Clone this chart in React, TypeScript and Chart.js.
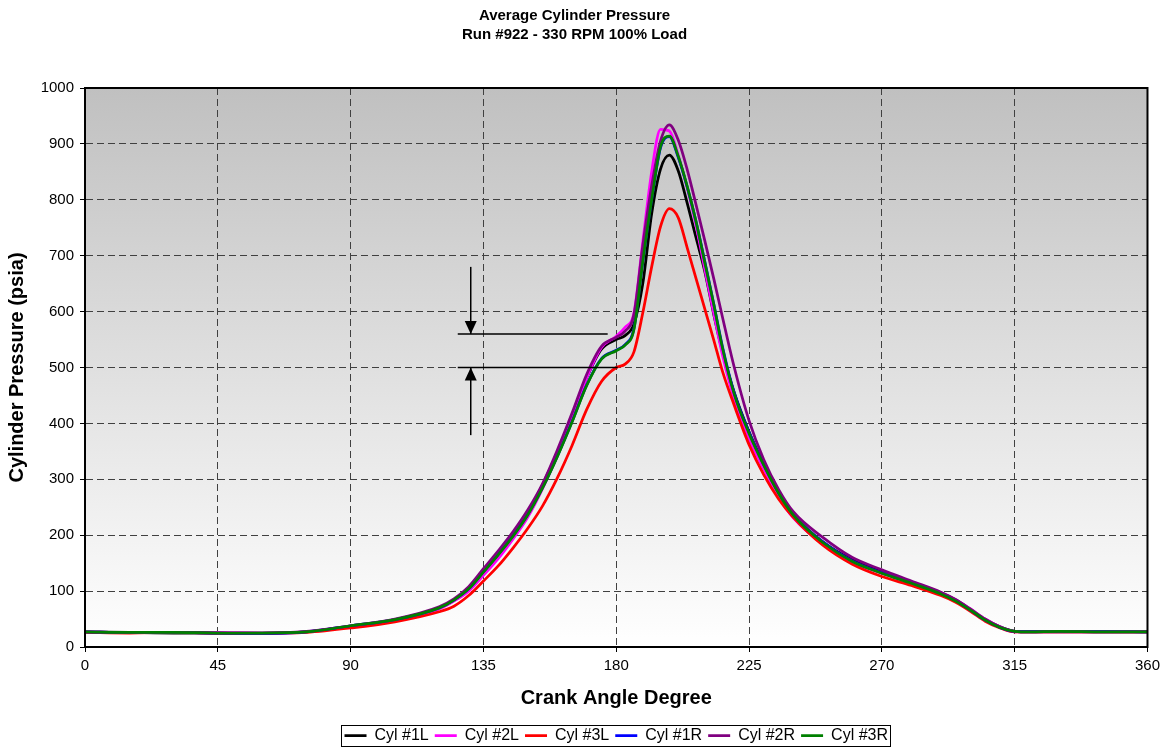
import React, { useEffect, useRef } from 'react';
import { Chart, registerables } from 'chart.js';
Chart.register(...registerables);

const titleLines = ['Average Cylinder Pressure', 'Run #922 - 330 RPM 100% Load'];
const xTitle = 'Crank Angle Degree';
const yTitle = 'Cylinder Pressure (psia)';
const seriesNames = ['Cyl #1L', 'Cyl #2L', 'Cyl #3L', 'Cyl #1R', 'Cyl #2R', 'Cyl #3R'];
const seriesColors = ['#000000', '#FF00FF', '#FF0000', '#0000FF', '#800080', '#008000'];

const angles = [0, 15, 30, 45, 60, 75, 90, 105, 120,
  125, 130, 135, 140, 145, 150, 155, 160, 165, 170, 175, 180,
  183, 186, 189, 192, 195, 198, 201, 204, 207, 210, 213, 216,
  220, 225, 230, 235, 240, 250, 260, 270, 280, 290,
  295, 300, 305, 310, 315, 320, 330, 345, 360];

const cyl1L = [27, 26, 25, 25, 25, 27, 37, 48, 69,
  83, 103, 133, 164, 200, 238, 290, 348, 413, 482, 533, 550,
  557, 578, 650, 775, 855, 880, 852, 795, 733, 672, 596, 528,
  455, 385, 327, 276, 237, 188, 156, 135, 116, 97,
  84, 67, 49, 36, 28, 27, 27, 27, 27];
const cyl2L = [27, 26, 26, 26, 25, 27, 37, 48, 68,
  82, 100, 128, 158, 193, 232, 283, 342, 410, 482, 536, 556,
  572, 598, 725, 850, 926, 923, 880, 822, 755, 676, 598, 522,
  443, 372, 318, 268, 231, 184, 152, 132, 114, 96,
  84, 68, 50, 36, 27, 27, 27, 27, 27];
const cyl3L = [26, 25, 26, 25, 24, 26, 34, 45, 63,
  73, 92, 118, 145, 177, 212, 252, 302, 360, 425, 475, 500,
  506, 528, 598, 680, 752, 784, 768, 715, 660, 605, 550, 493,
  432, 362, 308, 265, 232, 182, 148, 126, 110, 92,
  80, 64, 46, 34, 27, 27, 27, 27, 27];
const cyl1R = [27, 26, 26, 25, 24, 27, 38, 49, 70,
  84, 104, 135, 166, 199, 237, 285, 341, 403, 469, 516, 531,
  541, 570, 690, 800, 893, 913, 876, 824, 762, 690, 615, 537,
  454, 384, 326, 276, 237, 188, 154, 133, 115, 96,
  83, 66, 48, 35, 28, 28, 28, 28, 27];
const cyl2R = [27, 26, 26, 25, 25, 28, 38, 50, 72,
  86, 108, 140, 172, 206, 245, 292, 352, 418, 488, 538, 554,
  565, 595, 718, 825, 905, 934, 907, 855, 792, 727, 660, 590,
  500, 405, 335, 282, 242, 196, 160, 138, 118, 98,
  85, 68, 50, 36, 28, 27, 28, 27, 27];
const cyl3R = [27, 26, 26, 25, 25, 27, 38, 49, 70,
  84, 104, 134, 165, 198, 236, 284, 340, 402, 468, 515, 530,
  540, 568, 690, 800, 895, 914, 878, 825, 762, 688, 614, 535,
  452, 382, 325, 275, 236, 187, 153, 132, 114, 95,
  82, 66, 48, 35, 28, 27, 28, 27, 27];
const seriesValues = [cyl1L, cyl2L, cyl3L, cyl1R, cyl2R, cyl3R];

// annotation: two reference levels with arrows (data units)
const refLevels = [560, 500];
const refLineStart = 126.3;
const refLineEnds = [177.1, 180.5];
const arrowAngle = 130.7;
const arrowTails = [680, 379];

const FONT = "'Liberation Sans', Arial, sans-serif";

export default function App() {
  const canvasRef = useRef<HTMLCanvasElement | null>(null);

  useEffect(() => {
    const canvas = canvasRef.current;
    if (!canvas) return;

    const bgPlugin = {
      id: 'bgGradient',
      beforeDraw(chart: any) {
        const { ctx, chartArea, legend } = chart;
        if (!chartArea) return;
        if (legend && legend.legendHitBoxes) {
          const targetCx = (chartArea.left + chartArea.right) / 2;
          const targetCy = 737.5;
          const dx = targetCx - (legend.left + legend.right) / 2;
          const dy = targetCy - (legend.top + legend.bottom) / 2;
          legend.left += dx; legend.right += dx;
          legend.top += dy; legend.bottom += dy;
          legend.legendHitBoxes.forEach((h: any) => { h.left += dx; h.top += dy; });
        }
        const g = ctx.createLinearGradient(0, chartArea.top, 0, chartArea.bottom);
        g.addColorStop(0, '#c0c0c0');
        g.addColorStop(1, '#ffffff');
        ctx.save();
        ctx.fillStyle = g;
        ctx.fillRect(chartArea.left, chartArea.top, chartArea.right - chartArea.left, chartArea.bottom - chartArea.top);
        ctx.restore();
      },
    };

    const annotPlugin = {
      id: 'annot',
      afterDatasetsDraw(chart: any) {
        const { ctx, scales } = chart;
        const xs = scales.x;
        const ys = scales.y;
        ctx.save();
        ctx.strokeStyle = '#000';
        ctx.fillStyle = '#000';
        ctx.lineWidth = 1.5;
        const ax = xs.getPixelForValue(arrowAngle);
        refLevels.forEach((lvl, i) => {
          const py = ys.getPixelForValue(lvl);
          ctx.beginPath();
          ctx.moveTo(xs.getPixelForValue(refLineStart), py);
          ctx.lineTo(xs.getPixelForValue(refLineEnds[i]), py);
          ctx.stroke();
          const ty = ys.getPixelForValue(arrowTails[i]);
          ctx.beginPath();
          ctx.moveTo(ax, ty);
          ctx.lineTo(ax, py);
          ctx.stroke();
          const dir = ty < py ? -1 : 1;
          ctx.beginPath();
          ctx.moveTo(ax, py);
          ctx.lineTo(ax - 6, py + dir * 13);
          ctx.lineTo(ax + 6, py + dir * 13);
          ctx.closePath();
          ctx.fill();
        });
        ctx.restore();
      },
      afterDraw(chart: any) {
        const { ctx, chartArea, legend } = chart;
        ctx.save();
        ctx.strokeStyle = '#000';
        ctx.lineWidth = 2;
        ctx.strokeRect(chartArea.left, chartArea.top, chartArea.right - chartArea.left, chartArea.bottom - chartArea.top);
        if (legend && legend.legendHitBoxes && legend.legendHitBoxes.length) {
          const hb = legend.legendHitBoxes;
          let l = Infinity, r = -Infinity, t = Infinity, b = -Infinity;
          hb.forEach((h: any) => {
            l = Math.min(l, h.left); r = Math.max(r, h.left + h.width);
            t = Math.min(t, h.top); b = Math.max(b, h.top + h.height);
          });
          const cy = (t + b) / 2;
          ctx.lineWidth = 1;
          ctx.strokeRect(Math.round(l - 4) + 0.5, Math.round(cy - 10.5) + 0.5, Math.round(r - l + 6), 21);
        }
        ctx.restore();
      },
    };

    const gridOpts = { color: '#404040', lineWidth: 1, tickColor: '#000', tickLength: 5, tickBorderDash: [], tickWidth: 1 };
    const borderOpts = { display: true, color: '#000', width: 2, dash: [7, 4] };

    const chart = new Chart(canvas, {
      type: 'line',
      data: {
        datasets: seriesNames.map((name, i) => ({
          label: name,
          data: angles.map((a, j) => ({ x: a, y: seriesValues[i][j] })),
          borderColor: seriesColors[i],
          backgroundColor: seriesColors[i],
          borderWidth: 2.75,
          pointRadius: 0,
          cubicInterpolationMode: 'monotone',
          fill: false,
          order: seriesNames.length - 1 - i,
          pointStyle: 'line',
        })),
      },
      options: {
        animation: false,
        responsive: true,
        maintainAspectRatio: false,
        layout: { padding: { left: 0, right: 16, top: 0, bottom: 2 } },
        plugins: {
          title: {
            display: true,
            text: titleLines,
            color: '#000',
            font: { family: FONT, size: 15, weight: 'bold', lineHeight: 1.3 },
            padding: { top: 6, bottom: 43 },
          },
          legend: {
            display: true,
            position: 'bottom',
            labels: {
              color: '#000',
              font: { family: FONT, size: 16, lineHeight: 1 },
              usePointStyle: true,
              pointStyleWidth: 22,
              boxHeight: 16,
              padding: 6,
              sort: (a: any, b: any) => a.datasetIndex - b.datasetIndex,
            },
          },
          tooltip: { enabled: false },
        },
        scales: {
          x: {
            type: 'linear',
            min: 0,
            max: 360,
            ticks: { stepSize: 45, color: '#000', font: { family: FONT, size: 15 }, padding: 5, maxRotation: 0 },
            grid: gridOpts,
            border: borderOpts,
            title: { display: true, text: xTitle, color: '#000', font: { family: FONT, size: 20, weight: 'bold' }, padding: { top: 6, bottom: 4 } },
            afterFit(scale: any) { scale.height = 67; },
          },
          y: {
            type: 'linear',
            min: 0,
            max: 1000,
            ticks: { stepSize: 100, color: '#000', font: { family: FONT, size: 15 }, padding: 6, callback: (v: any) => String(v) },
            grid: gridOpts,
            border: borderOpts,
            title: { display: true, text: yTitle, color: '#000', font: { family: FONT, size: 20, weight: 'bold' }, padding: { top: 5, bottom: 6 } },
            afterFit(scale: any) { scale.width = 85; },
          },
        },
      },
      plugins: [bgPlugin, annotPlugin],
    } as any);

    return () => chart.destroy();
  }, []);

  return (
    <div style={{ position: 'fixed', left: 0, top: 0, width: 1165, height: 748, background: '#fff' }}>
      <canvas ref={canvasRef} />
    </div>
  );
}
